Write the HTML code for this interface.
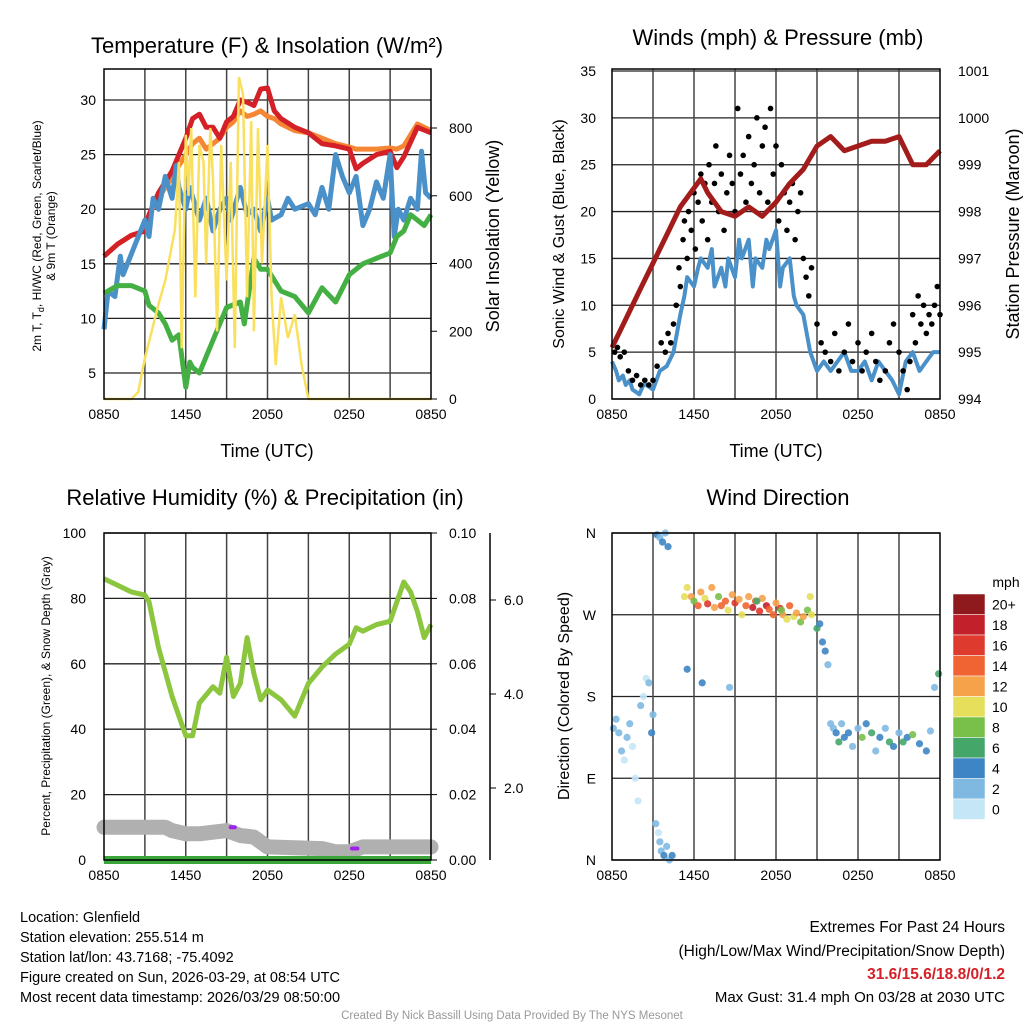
<!DOCTYPE html>
<html><head><meta charset="utf-8">
<style>
body{margin:0;background:#fff;}
svg{display:block;font-family:"Liberation Sans",sans-serif;}
</style></head>
<body>
<svg id="s" width="1024" height="1024" viewBox="0 0 1024 1024">
<g id="g1"></g>
<g id="g2"></g>
<g id="g3"></g>
<g id="g4"></g>
<g id="txt" font-size="14.5" fill="#000">
<text x="20" y="922">Location: Glenfield</text>
<text x="20" y="942">Station elevation: 255.514 m</text>
<text x="20" y="962">Station lat/lon: 43.7168; -75.4092</text>
<text x="20" y="982">Figure created on Sun, 2026-03-29, at 08:54 UTC</text>
<text x="20" y="1002">Most recent data timestamp: 2026/03/29 08:50:00</text>
<text x="1005" y="932" text-anchor="end" font-size="15.5">Extremes For Past 24 Hours</text>
<text x="1005" y="956" text-anchor="end" font-size="15.5">(High/Low/Max Wind/Precipitation/Snow Depth)</text>
<text x="1005" y="979" text-anchor="end" font-size="15.5" font-weight="bold" fill="#d42027">31.6/15.6/18.8/0/1.2</text>
<text x="1005" y="1002" text-anchor="end" font-size="15">Max Gust: 31.4 mph On 03/28 at 2030 UTC</text>
<text x="512" y="1019" text-anchor="middle" font-size="11.5" fill="#999">Created By Nick Bassill Using Data Provided By The NYS Mesonet</text>
</g>
</svg>
<script>
// ---- data ----
const xTickLabels=["0850","1450","2050","0250","0850"];
const tTimes=[0,1,2,3,3.3,4,5,6,6.5,7,7.5,8,8.5,9,9.5,10,10.5,11,11.5,12,12.5,13,14,15,16,17,18,18.5,19,20,21,21.5,22,23,24];
const tempRed=[15.7,16.8,17.6,18,19.5,21.5,23.5,26.5,28.3,28.7,27.5,27.5,26.5,28,28.5,30,29.8,29.5,31,31.1,29,28.3,27.5,27,26,25.8,25.5,23.7,24.2,25,25.3,23.8,24.8,27.5,27];
const tempOrange=[15.7,16.8,17.6,18,19.5,21,23,25,26,26.5,25.5,26,26.5,27.5,28,29,28.5,28.7,29,28.5,28.3,27.8,27.2,27,26.5,26,25.7,25.5,25.5,25.5,25.6,25.5,25.8,27.8,27.2];
const dewTimes=[0,0.3,0.8,1.2,1.4,3,3.3,3.6,4,4.5,5,5.3,5.5,6,6.3,7,7.5,8,8.5,9,9.3,10,10.5,11,11.5,12,12.3,13,13.5,14,15,15.5,16,16.5,17,17.5,18,18.5,19,19.5,20,20.5,21,21.3,21.6,22,22.5,23,23.3,23.6,24];
const dewBlue=[9,12.5,12,15.7,14,19,17.5,21,20,23,21,24,22,20,22,19,21,18,20,21,19,22,19.5,20,18,21,19,19.5,21,20,20.5,19.5,22,20,25,23,21.5,23,18.5,20,22.5,21,25,17.5,20,19,21,20,25.3,21.5,21];
const grnTimes=[0,1,2,3,3.3,4,4.5,5,5.5,6,6.3,6.5,7,7.5,8,9,10,10.3,11,11.5,12,12.5,13,14,15,16,17,18,19,20,21,21.5,22,22.5,23,23.5,24];
const dewGreen=[12.3,13,13,12.5,11.2,10.5,9.5,8,8.5,3.7,6,5.5,5,6.5,8,11,11.5,9.5,15.5,14.5,14.5,13.5,12.5,12,10.5,12.8,11.5,14,15,15.5,16,17.5,18,19.5,19,18.5,19.5];
const solTimes=[0,2,2.5,3,3.5,4,4.5,5.2,5.5,5.7,6,6.2,6.4,6.7,7,7.3,7.5,7.8,8,8.3,8.6,9,9.3,9.6,9.9,10.2,10.5,10.8,11,11.3,11.6,12,12.3,12.6,13,13.5,14,14.5,15,24];
const solar=[0,0,20,120,200,280,350,500,700,150,780,600,800,300,750,700,400,800,650,200,750,350,700,150,950,900,300,820,200,800,400,750,300,100,300,180,250,100,0,0];
const wTimes=[0,0.3,0.5,0.8,1,1.3,1.5,2,2.3,2.5,3,3.5,4,4.5,5,5.3,5.5,6,6.3,6.5,7,7.3,7.5,8,8.3,8.5,9,9.3,9.5,10,10.3,10.5,11,11.3,11.5,12,12.3,12.5,13,13.3,13.5,14,14.5,15,15.5,16,16.5,17,17.5,18,18.5,19,19.5,20,20.5,21,21.5,22,22.5,23,23.5,24];
const windSpd=[4,3,2,2.5,1.5,2,1,0.5,1.5,1.5,1,3,3.5,5,9,11,13,12,14,15,14,16,12,14,12,15,13,17,15,17,12,15,14,17,16,18,12,14,15,11,10,9,5,3,4,3,4,5,3,3,4,2,4,3,2,0.5,4,5,3,4,5,5];
const pTimes=[0,1,2,3,4,5,6,6.5,7,8,9,10,11,12,13,14,15,16,17,18,19,20,21,22,23,24];
const pressure=[995.1,995.7,996.3,996.9,997.5,998.1,998.5,998.7,998.4,998,997.9,998.1,997.9,998.2,998.6,998.9,999.4,999.6,999.3,999.4,999.5,999.5,999.6,999.0,999.0,999.3];
const gTimes=[0.2,0.4,0.6,0.9,1.2,1.5,1.8,2.1,2.4,2.7,3.0,3.3,3.6,3.9,4.1,4.3,4.5,4.7,4.9,5.0,5.2,5.3,5.5,5.6,5.8,6.0,6.1,6.3,6.5,6.6,6.8,7.0,7.1,7.3,7.5,7.6,7.8,8.0,8.2,8.4,8.6,8.8,9.0,9.2,9.4,9.6,9.8,10.0,10.2,10.4,10.6,10.8,11.0,11.2,11.4,11.6,11.8,12.0,12.2,12.4,12.6,12.8,13.0,13.2,13.4,13.6,13.8,14.0,14.2,14.4,14.6,15.0,15.3,15.6,16.0,16.3,16.6,17.0,17.3,17.6,18.0,18.3,18.6,19.0,19.3,19.6,20.0,20.3,20.6,21.0,21.3,21.6,21.8,22.0,22.2,22.4,22.6,22.8,23.0,23.2,23.4,23.6,23.8,24.0];
const gusts=[5,5.5,4.5,5,3,2,2.5,1.5,2,1.5,2,3.5,6,5,7,6,8,10,14,12,17,19,15,20,18,22,16,21,24,19,23,17,25,21,23,27,20,24,18,22,26,23,20,31,24,26,21,28,23,25,30,22,27,29,21,31,24,27,19,25,22,18,21,23,17,20,22,15,13,11,14,8,6,5,4,7,3,5,8,4,6,3,5,7,4,2,3,6,8,5,3,1,4,9,6,11,8,10,7,9,8,10,12,9];
const rhTimes=[0,1,2,3,3.3,4,5,5.5,6,6.5,7,8,8.5,9,9.5,10,10.5,11,11.5,12,13,14,15,16,17,18,18.5,19,20,21,22,22.5,23,23.5,24];
const rh=[86,84,82,81,79,65,50,44,38,38,48,53,51,62,50,54,68,57,49,52,49,44,54,59,63,66,71,70,72,73,85,82,76,68,72];
const snowTimes=[0,4.5,5,6,7,8,9,10,11,12,16,17,18,19,24];
const snowDepthPct=[10,10,9,8,8,8.5,9,7.5,7,4,3.5,2.5,2.5,4,4];
const precipTimes=[9.3,9.6,18.2,18.6];
const precipVals=[10,10,3.5,3.5];
const dirTimes=[0.1,0.3,0.5,0.7,0.9,1.1,1.3,1.5,1.7,1.9,2.1,2.3,2.5,2.7,2.9,3.0,3.2,3.4,3.5,3.6,3.8,4.0,4.2,4.4,3.3,3.5,3.7,3.9,4.1,5.3,5.5,5.8,6.0,6.3,6.5,6.8,7.0,7.3,7.5,7.8,8.0,8.3,8.5,8.8,9.0,9.3,9.5,9.8,10.0,10.3,10.5,10.8,11.0,11.3,11.5,11.8,12.0,12.3,12.5,12.8,13.0,13.3,13.5,13.8,14.0,14.3,14.6,15.0,15.2,15.4,15.6,15.8,16.0,16.2,16.4,16.6,16.8,17.0,17.3,17.6,18.0,18.3,18.6,19.0,19.3,19.6,20.0,20.3,20.6,21.0,21.3,21.6,22.0,22.5,23.0,23.3,23.6,23.9,5.5,6.6,8.6,10.6,12.4,14.5];
const dirDeg=[145,155,140,120,110,135,150,125,90,65,170,180,200,195,140,160,40,30,20,10,5,15,0,5,358,355,350,360,345,290,300,290,285,280,295,288,282,300,278,290,280,285,275,292,283,287,270,280,290,278,285,274,288,280,276,270,283,277,270,265,280,268,272,262,268,275,270,255,260,240,230,215,150,145,140,130,150,135,140,125,145,135,150,140,120,135,145,130,125,140,130,135,138,128,120,142,190,205,210,195,190,285,275,290,270,280,270];
const dirSpd=[3,3,2,2,1,2,2,1,0,0,2,1,0,3,4,3,2,1,3,2,4,3,2,4,4,3,4,3,4,10,11,12,9,14,12,10,16,13,12,9,15,14,11,12,17,13,10,15,12,18,14,16,12,19,14,15,13,17,12,11,14,10,12,9,13,8,11,6,5,4,4,3,2,3,4,6,3,5,4,2,3,8,4,6,3,5,2,7,4,3,6,4,8,5,4,3,3,6,4,5,3,7,9,10,12,16,5];
const speedBinLabels=["20+","18","16","14","12","10","8","6","4","2","0"];
const speedBinColors=["#8f1a1d","#c2202a","#df3a2e","#ef6432","#f6a24b","#e6df5c","#79c04a","#45a66a","#3d85c4","#7fb9e2","#c4e6f6"];

const NS="http://www.w3.org/2000/svg";
function mk(p,tag,at,name,txt){const e=document.createElementNS(NS,tag);for(const k in at)e.setAttribute(k,at[k]);


if(txt!==undefined)e.textContent=txt;p.appendChild(e);return e;}
function lin(d0,d1,r0,r1){return v=>r0+(v-d0)*(r1-r0)/(d1-d0);}
function pathD(ts,vs,fx,fy){return ts.map((t,i)=>(i?'L':'M')+fx(t).toFixed(1)+' '+fy(vs[i]).toFixed(1)).join(' ');}

function frame(g,x0,x1,y0,y1,xs){
  for(let h=3;h<24;h+=3){mk(g,'line',{x1:xs(h),x2:xs(h),y1:y0,y2:y1,stroke:'#444','stroke-width':1.5},'x-grid-line');}
  xTickLabels.forEach((l,i)=>{mk(g,'text',{x:xs(i*6),y:y1+20,'text-anchor':'middle','font-size':14},'x-tick-label',l);});
}
function box(g,x0,x1,y0,y1){mk(g,'rect',{x:x0,y:y0,width:x1-x0,height:y1-y0,fill:'none',stroke:'#000','stroke-width':1.5},'plot-frame');}

// ---- Panel 1 ----
(function(){
const g=document.getElementById('g1');const x0=104,x1=431,y0=69,y1=399;
const xs=lin(0,24,x0,x1),ys=lin(5,30,373,100),ysr=lin(0,800,399,128);
mk(g,'text',{x:267,y:53,'text-anchor':'middle','font-size':22},'chart-title','Temperature (F) & Insolation (W/m²)');
[5,10,15,20,25,30].forEach(v=>{mk(g,'line',{x1:x0,x2:x1,y1:ys(v),y2:ys(v),stroke:'#222','stroke-width':1.3},'y-grid-line');
mk(g,'text',{x:x0-8,y:ys(v)+5,'text-anchor':'end','font-size':14},'y-tick-label',v);});
frame(g,x0,x1,y0,y1,xs);
[0,200,400,600,800].forEach(v=>{mk(g,'line',{x1:x1,x2:x1+6,y1:ysr(v),y2:ysr(v),stroke:'#000'},'y2-tick');mk(g,'text',{x:x1+18,y:ysr(v)+5,'font-size':14},'y2-tick-label',v);});
mk(g,'path',{d:pathD(tTimes,tempOrange,xs,ys),fill:'none',stroke:'#f58634','stroke-width':5,'stroke-linejoin':'round'},'series-9m-temp');
mk(g,'path',{d:pathD(tTimes,tempRed,xs,ys),fill:'none',stroke:'#d42027','stroke-width':5,'stroke-linejoin':'round'},'series-2m-temp');
mk(g,'path',{d:pathD(dewTimes,dewBlue,xs,ys),fill:'none',stroke:'#4a90c9','stroke-width':5,'stroke-linejoin':'round'},'series-dewpoint');
mk(g,'path',{d:pathD(grnTimes,dewGreen,xs,ys),fill:'none',stroke:'#44b043','stroke-width':5,'stroke-linejoin':'round'},'series-windchill');
mk(g,'path',{d:pathD(solTimes,solar,xs,ysr),fill:'none',stroke:'#f9e05e','stroke-width':2.5},'series-insolation');
box(g,x0,x1,y0,y1);
mk(g,'text',{x:267,y:457,'text-anchor':'middle','font-size':18},'x-axis-title','Time (UTC)');
mk(g,'text',{transform:'translate(499,236) rotate(-90)','text-anchor':'middle','font-size':18},'y2-axis-title','Solar Insolation (Yellow)');
const t=mk(g,'text',{transform:'translate(41,236) rotate(-90)','text-anchor':'middle','font-size':12},'y-axis-title','2m T, T');
const s=document.createElementNS(NS,'tspan');s.setAttribute('font-size','9');s.setAttribute('dy','3');s.textContent='d';t.appendChild(s);
const s2=document.createElementNS(NS,'tspan');s2.setAttribute('dy','-3');s2.textContent=', HI/WC (Red, Green, Scarlet/Blue)';t.appendChild(s2);
mk(g,'text',{transform:'translate(55,236) rotate(-90)','text-anchor':'middle','font-size':12},'y-axis-title-2','& 9m T (Orange)');
})();

// ---- Panel 2 ----
(function(){
const g=document.getElementById('g2');const x0=612,x1=940,y0=69,y1=399;
const xs=lin(0,24,x0,x1),ys=lin(0,35,399,71),ysr=lin(994,1001,399,71);
mk(g,'text',{x:778,y:45,'text-anchor':'middle','font-size':22},'chart-title','Winds (mph) & Pressure (mb)');
[0,5,10,15,20,25,30,35].forEach(v=>{mk(g,'line',{x1:x0,x2:x1,y1:ys(v),y2:ys(v),stroke:'#222','stroke-width':1.3},'y-grid-line');
mk(g,'text',{x:x0-16,y:ys(v)+5,'text-anchor':'end','font-size':14},'y-tick-label',v);});
frame(g,x0,x1,y0,y1,xs);
[994,995,996,997,998,999,1000,1001].forEach(v=>{mk(g,'text',{x:x1+18,y:ysr(v)+5,'font-size':14},'y2-tick-label',v);});
mk(g,'path',{d:pathD(wTimes,windSpd,xs,ys),fill:'none',stroke:'#4a90c9','stroke-width':4,'stroke-linejoin':'round'},'series-sonic-wind');
gTimes.forEach((t,i)=>{mk(g,'circle',{cx:xs(t),cy:ys(gusts[i]),r:2.8,fill:'#000'},'gust-point');});
mk(g,'path',{d:pathD(pTimes,pressure,xs,ysr),fill:'none',stroke:'#a31c1c','stroke-width':5,'stroke-linejoin':'round'},'series-pressure');
box(g,x0,x1,y0,y1);
mk(g,'text',{x:776,y:457,'text-anchor':'middle','font-size':18},'x-axis-title','Time (UTC)');
mk(g,'text',{transform:'translate(564,234) rotate(-90)','text-anchor':'middle','font-size':16},'y-axis-title','Sonic Wind & Gust (Blue, Black)');
mk(g,'text',{transform:'translate(1019,234) rotate(-90)','text-anchor':'middle','font-size':18},'y2-axis-title','Station Pressure (Maroon)');
})();

// ---- Panel 3 ----
(function(){
const g=document.getElementById('g3');const x0=104,x1=431,y0=533,y1=860;
const xs=lin(0,24,x0,x1),ys=lin(0,100,860,533),ysp=lin(0,0.1,860,533),yss=lin(0,6,882,600);
mk(g,'text',{x:265,y:505,'text-anchor':'middle','font-size':22},'chart-title','Relative Humidity (%) & Precipitation (in)');
[0,20,40,60,80,100].forEach(v=>{mk(g,'line',{x1:x0,x2:x1,y1:ys(v),y2:ys(v),stroke:'#222','stroke-width':1.3},'y-grid-line');
mk(g,'text',{x:x0-18,y:ys(v)+5,'text-anchor':'end','font-size':14},'y-tick-label',v);});
frame(g,x0,x1,y0,y1,xs);
[0,0.02,0.04,0.06,0.08,0.1].forEach(v=>{mk(g,'line',{x1:x1,x2:x1+6,y1:ysp(v),y2:ysp(v),stroke:'#000'},'y2-tick');mk(g,'text',{x:x1+18,y:ysp(v)+5,'font-size':14},'y2-tick-label',v.toFixed(2));});
mk(g,'line',{x1:490,x2:490,y1:533,y2:860,stroke:'#000','stroke-width':1.5},'y3-axis-line');
[2,4,6].forEach(v=>{mk(g,'line',{x1:490,x2:496,y1:yss(v),y2:yss(v),stroke:'#000'},'y3-tick');mk(g,'text',{x:504,y:yss(v)+5,'font-size':14},'y3-tick-label',v.toFixed(1));});
mk(g,'path',{d:pathD(snowTimes,snowDepthPct,xs,ys),fill:'none',stroke:'#b0b0b0','stroke-width':15,'stroke-linejoin':'round','stroke-linecap':'round'},'series-snow-depth');
mk(g,'line',{x1:x0,x2:x1,y1:ys(0),y2:ys(0),stroke:'#3aa63a','stroke-width':8},'series-precipitation');
for(let i=0;i<precipTimes.length;i+=2){mk(g,'line',{x1:xs(precipTimes[i]),x2:xs(precipTimes[i+1]),y1:ys(precipVals[i]),y2:ys(precipVals[i+1]),stroke:'#a020f0','stroke-width':4,'stroke-linecap':'round'},'precip-marker');}
mk(g,'path',{d:pathD(rhTimes,rh,xs,ys),fill:'none',stroke:'#8cc63f','stroke-width':5,'stroke-linejoin':'round'},'series-rh');
box(g,x0,x1,y0,y1);
mk(g,'text',{transform:'translate(50,696) rotate(-90)','text-anchor':'middle','font-size':12},'y-axis-title','Percent, Precipitation (Green), & Snow Depth (Gray)');
})();

// ---- Panel 4 ----
(function(){
const g=document.getElementById('g4');const x0=612,x1=940,y0=533,y1=860;
const xs=lin(0,24,x0,x1),ys=lin(0,360,860,533);
mk(g,'text',{x:778,y:505,'text-anchor':'middle','font-size':22},'chart-title','Wind Direction');
[[0,'N'],[90,'E'],[180,'S'],[270,'W'],[360,'N']].forEach(([v,l])=>{mk(g,'line',{x1:x0,x2:x1,y1:ys(v),y2:ys(v),stroke:'#222','stroke-width':1.3},'y-grid-line');
mk(g,'text',{x:x0-16,y:ys(v)+5,'text-anchor':'end','font-size':14},'y-tick-label',l);});
frame(g,x0,x1,y0,y1,xs);
function col(s){let i=Math.min(10,Math.floor(s/2));return speedBinColors[10-i];}
dirTimes.forEach((t,i)=>{mk(g,'circle',{cx:xs(t),cy:ys(dirDeg[i]),r:3.6,fill:col(dirSpd[i]),'fill-opacity':0.9},'direction-point');});
box(g,x0,x1,y0,y1);
mk(g,'text',{transform:'translate(569,696) rotate(-90)','text-anchor':'middle','font-size':16},'y-axis-title','Direction (Colored By Speed)');
mk(g,'text',{x:1006,y:587,'text-anchor':'middle','font-size':14},'colorbar-title','mph');
const cb=20.5;
speedBinColors.forEach((c,i)=>{mk(g,'rect',{x:953,y:594+i*cb,width:32,height:cb,fill:c,stroke:'#fff','stroke-width':0.5},'colorbar-bin');
mk(g,'text',{x:992,y:594+i*cb+cb/2+5,'font-size':14},'colorbar-label',speedBinLabels[i]);});
})();
</script>
</body></html>
